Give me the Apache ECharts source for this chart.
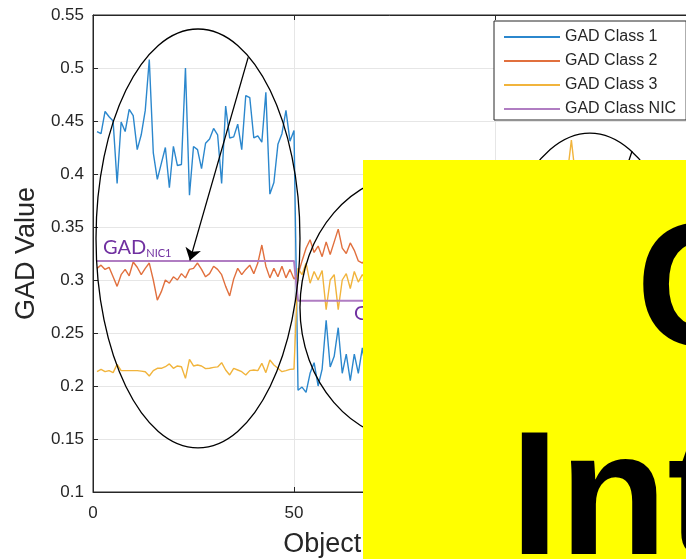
<!DOCTYPE html>
<html><head><meta charset="utf-8">
<style>html,body{margin:0;padding:0;background:#fff}#c{width:686px;height:559px}</style>
<script src="https://cdn.jsdelivr.net/npm/echarts@6/dist/echarts.min.js"></script>
</head><body><div id="c"></div>
<script>
// ---- data (objects 1..68 visible; the rest is hidden behind the overlay) ----
const seriesNames = ['GAD Class 1', 'GAD Class 2', 'GAD Class 3', 'GAD Class NIC'];
const class1 = [
  0.440,0.438,0.459,0.454,0.450,0.391,0.449,0.440,0.461,0.455,
  0.423,0.437,0.460,0.508,0.420,0.395,0.410,0.425,0.387,0.426,
  0.408,0.409,0.500,0.380,0.426,0.423,0.405,0.429,0.433,0.443,
  0.437,0.391,0.464,0.434,0.435,0.447,0.423,0.474,0.472,0.434,
  0.436,0.430,0.477,0.381,0.392,0.428,0.438,0.460,0.431,0.441,
  0.196,0.199,0.194,0.212,0.222,0.200,0.216,0.262,0.218,0.228,
  0.255,0.212,0.230,0.205,0.230,0.212,0.236,0.212];
const class2 = [
  0.311,0.314,0.310,0.312,0.303,0.294,0.305,0.310,0.304,0.317,
  0.312,0.305,0.311,0.316,0.300,0.281,0.289,0.300,0.297,0.303,
  0.300,0.306,0.302,0.310,0.311,0.316,0.310,0.303,0.306,0.313,
  0.310,0.305,0.294,0.285,0.301,0.311,0.305,0.310,0.314,0.306,
  0.316,0.333,0.313,0.302,0.311,0.303,0.313,0.302,0.310,0.301,
  0.305,0.318,0.330,0.338,0.326,0.332,0.322,0.336,0.324,0.336,
  0.348,0.330,0.325,0.335,0.328,0.318,0.316,0.320];
const class3 = [
  0.2135,0.2157,0.2135,0.2145,0.2126,0.2204,0.2145,0.2145,0.2145,0.2145,
  0.2145,0.2140,0.2135,0.2094,0.2145,0.2167,0.2167,0.2182,0.2208,0.2167,
  0.2189,0.2182,0.2072,0.2252,0.2189,0.2198,0.2189,0.2164,0.2167,0.2176,
  0.2180,0.2220,0.2151,0.2104,0.2167,0.2151,0.2135,0.2104,0.2145,0.2151,
  0.2145,0.2214,0.2126,0.2245,0.2198,0.2167,0.2135,0.2145,0.2157,0.2160,
  0.311,0.305,0.316,0.297,0.308,0.300,0.309,0.272,0.300,0.305,
  0.272,0.300,0.306,0.292,0.308,0.298,0.305,0.300];
const class3SpikeX = [116, 117, 118, 119, 120, 121, 122];
const class3SpikeY = [0.370, 0.385, 0.400, 0.432, 0.398, 0.380, 0.370];
const nicX = [1, 50, 51, 100];
const nicY = [0.318, 0.318, 0.2805, 0.2805];
const nicLabels = ['NIC1', 'NIC2'];
const xMin = 0, xMax = 150, xStep = 50;
const yMin = 0.1, yMax = 0.55, yStep = 0.05;

const colors = ['#2B87CD', '#E1703E', '#F1B43C', '#B07DC2'];
const axisColor = '#262626';
const FONT = 'Liberation Sans';

const pairs = arr => arr.map((v, k) => [k + 1, v]);
const class3Data = pairs(class3).concat([[70, '-']]).concat(class3SpikeX.map((x, k) => [x, class3SpikeY[k]]));
const nicData = nicX.map((x, k) => [x, nicY[k]]);

const chart = echarts.init(document.getElementById('c'), null, {renderer: 'canvas'});
const lineSeries = (name, data, color, extra) => Object.assign({
  name, type: 'line', data, showSymbol: false, symbol: 'none',
  lineStyle: {color, width: 1.4}, itemStyle: {color},
  animation: false, z: 3
}, extra || {});

chart.setOption({
  animation: false,
  backgroundColor: '#fff',
  grid: {left: 93, top: 15, right: -10, bottom: 67, show: true, borderColor: axisColor, borderWidth: 1, outerBoundsMode: 'none', containLabel: false},
  legend: {
    orient: 'vertical', left: 494, top: 21,
    padding: [8, 10, 3, 10], itemGap: 8, itemWidth: 56, itemHeight: 2, icon: 'rect',
    backgroundColor: '#fff', borderColor: axisColor, borderWidth: 1, borderRadius: 0,
    textStyle: {fontSize: 16, color: axisColor, fontFamily: FONT},
    data: seriesNames
  },
  xAxis: [{
    type: 'value', min: xMin, max: xMax, interval: xStep,
    name: 'Object Number', nameLocation: 'middle', nameGap: 39,
    nameTextStyle: {fontSize: 27, color: axisColor, fontFamily: FONT, padding: [0, 41, 0, 0]},
    axisLine: {show: true, lineStyle: {color: axisColor, width: 1}},
    axisTick: {show: true, inside: true, length: 5, lineStyle: {color: axisColor}},
    axisLabel: {fontSize: 17, color: axisColor, fontFamily: FONT, margin: 13},
    splitLine: {show: true, lineStyle: {color: '#E6E6E6', width: 1}}
  }, {
    type: 'value', min: xMin, max: xMax, interval: xStep, position: 'top',
    axisLine: {show: true, lineStyle: {color: axisColor, width: 1}},
    axisTick: {show: true, inside: true, length: 5, lineStyle: {color: axisColor}},
    axisLabel: {show: false}, splitLine: {show: false}
  }],
  yAxis: {
    type: 'value', min: yMin, max: yMax, interval: yStep,
    name: 'GAD Value', nameLocation: 'middle', nameGap: 53, nameRotate: 90,
    nameTextStyle: {fontSize: 27, color: axisColor, fontFamily: FONT},
    axisLine: {show: true, lineStyle: {color: axisColor, width: 1}},
    axisTick: {show: true, inside: true, length: 5, lineStyle: {color: axisColor}},
    axisLabel: {fontSize: 17, color: axisColor, fontFamily: FONT, margin: 9},
    splitLine: {show: true, lineStyle: {color: '#E6E6E6', width: 1}}
  },
  series: [
    lineSeries(seriesNames[0], pairs(class1), colors[0]),
    lineSeries(seriesNames[1], pairs(class2), colors[1]),
    lineSeries(seriesNames[2], class3Data, colors[2]),
    lineSeries(seriesNames[3], nicData, colors[3], {
      lineStyle: {color: colors[3], width: 2},
      markLine: {
        silent: true, symbol: ['none', 'arrow'], symbolSize: 12,
        label: {show: false},
        lineStyle: {color: '#000', width: 1.3, type: 'solid'},
        data: [
          [{coord: [38.6, 0.510]}, {coord: [24.1, 0.3185]}],
          [{coord: [134.1, 0.4217]}, {coord: [126.1, 0.33]}]
        ]
      }
    })
  ]
});

// annotations placed in data coordinates
const ellipses = [
  {cx: 26.12, cy: 0.3392, rx: 25.37, ry: 0.1976},
  {cx: 80.22, cy: 0.274, rx: 28.73, ry: 0.1264},
  {cx: 123.6, cy: 0.2415, rx: 25.37, ry: 0.197}
];
const nicLabelPos = [[2.5, 0.3305], [64.9, 0.2680]];
const px = p => chart.convertToPixel({gridIndex: 0}, p);
const g = [];
ellipses.forEach(e => {
  const c = px([e.cx, e.cy]);
  const r = px([e.cx + e.rx, e.cy - e.ry]);
  g.push({type: 'ellipse', z: 50, silent: true,
    shape: {cx: c[0], cy: c[1], rx: r[0] - c[0], ry: r[1] - c[1]},
    style: {fill: null, stroke: '#000', lineWidth: 1.3}});
});
nicLabelPos.forEach((p, k) => {
  const q = px(p);
  g.push({type: 'text', z: 55, silent: true, x: q[0], y: q[1],
    style: {text: '{a|GAD}{b|' + nicLabels[k] + '}', align: 'left', verticalAlign: 'middle',
      rich: {
        a: {fontSize: 20, fontFamily: 'Lato', fill: '#7030A0', lineHeight: 22},
        b: {fontSize: 11, fontFamily: 'Lato', fill: '#7030A0', lineHeight: 12, verticalAlign: 'bottom'}
      }}});
});
// overlay box
g.push({type: 'rect', z: 100, silent: true, shape: {x: 363, y: 160, width: 330, height: 405}, style: {fill: '#FFFF00'}});
g.push({type: 'text', z: 101, silent: true, x: 636, y: 296,
  style: {text: 'C', fontSize: 177, fontWeight: 'bold', fontFamily: FONT, fill: '#000', align: 'left', verticalAlign: 'middle'}});
g.push({type: 'text', z: 101, silent: true, x: 510, y: 505,
  style: {text: 'Int', fontSize: 177, fontWeight: 'bold', fontFamily: FONT, fill: '#000', align: 'left', verticalAlign: 'middle'}});
chart.setOption({graphic: g});
</script></body></html>
